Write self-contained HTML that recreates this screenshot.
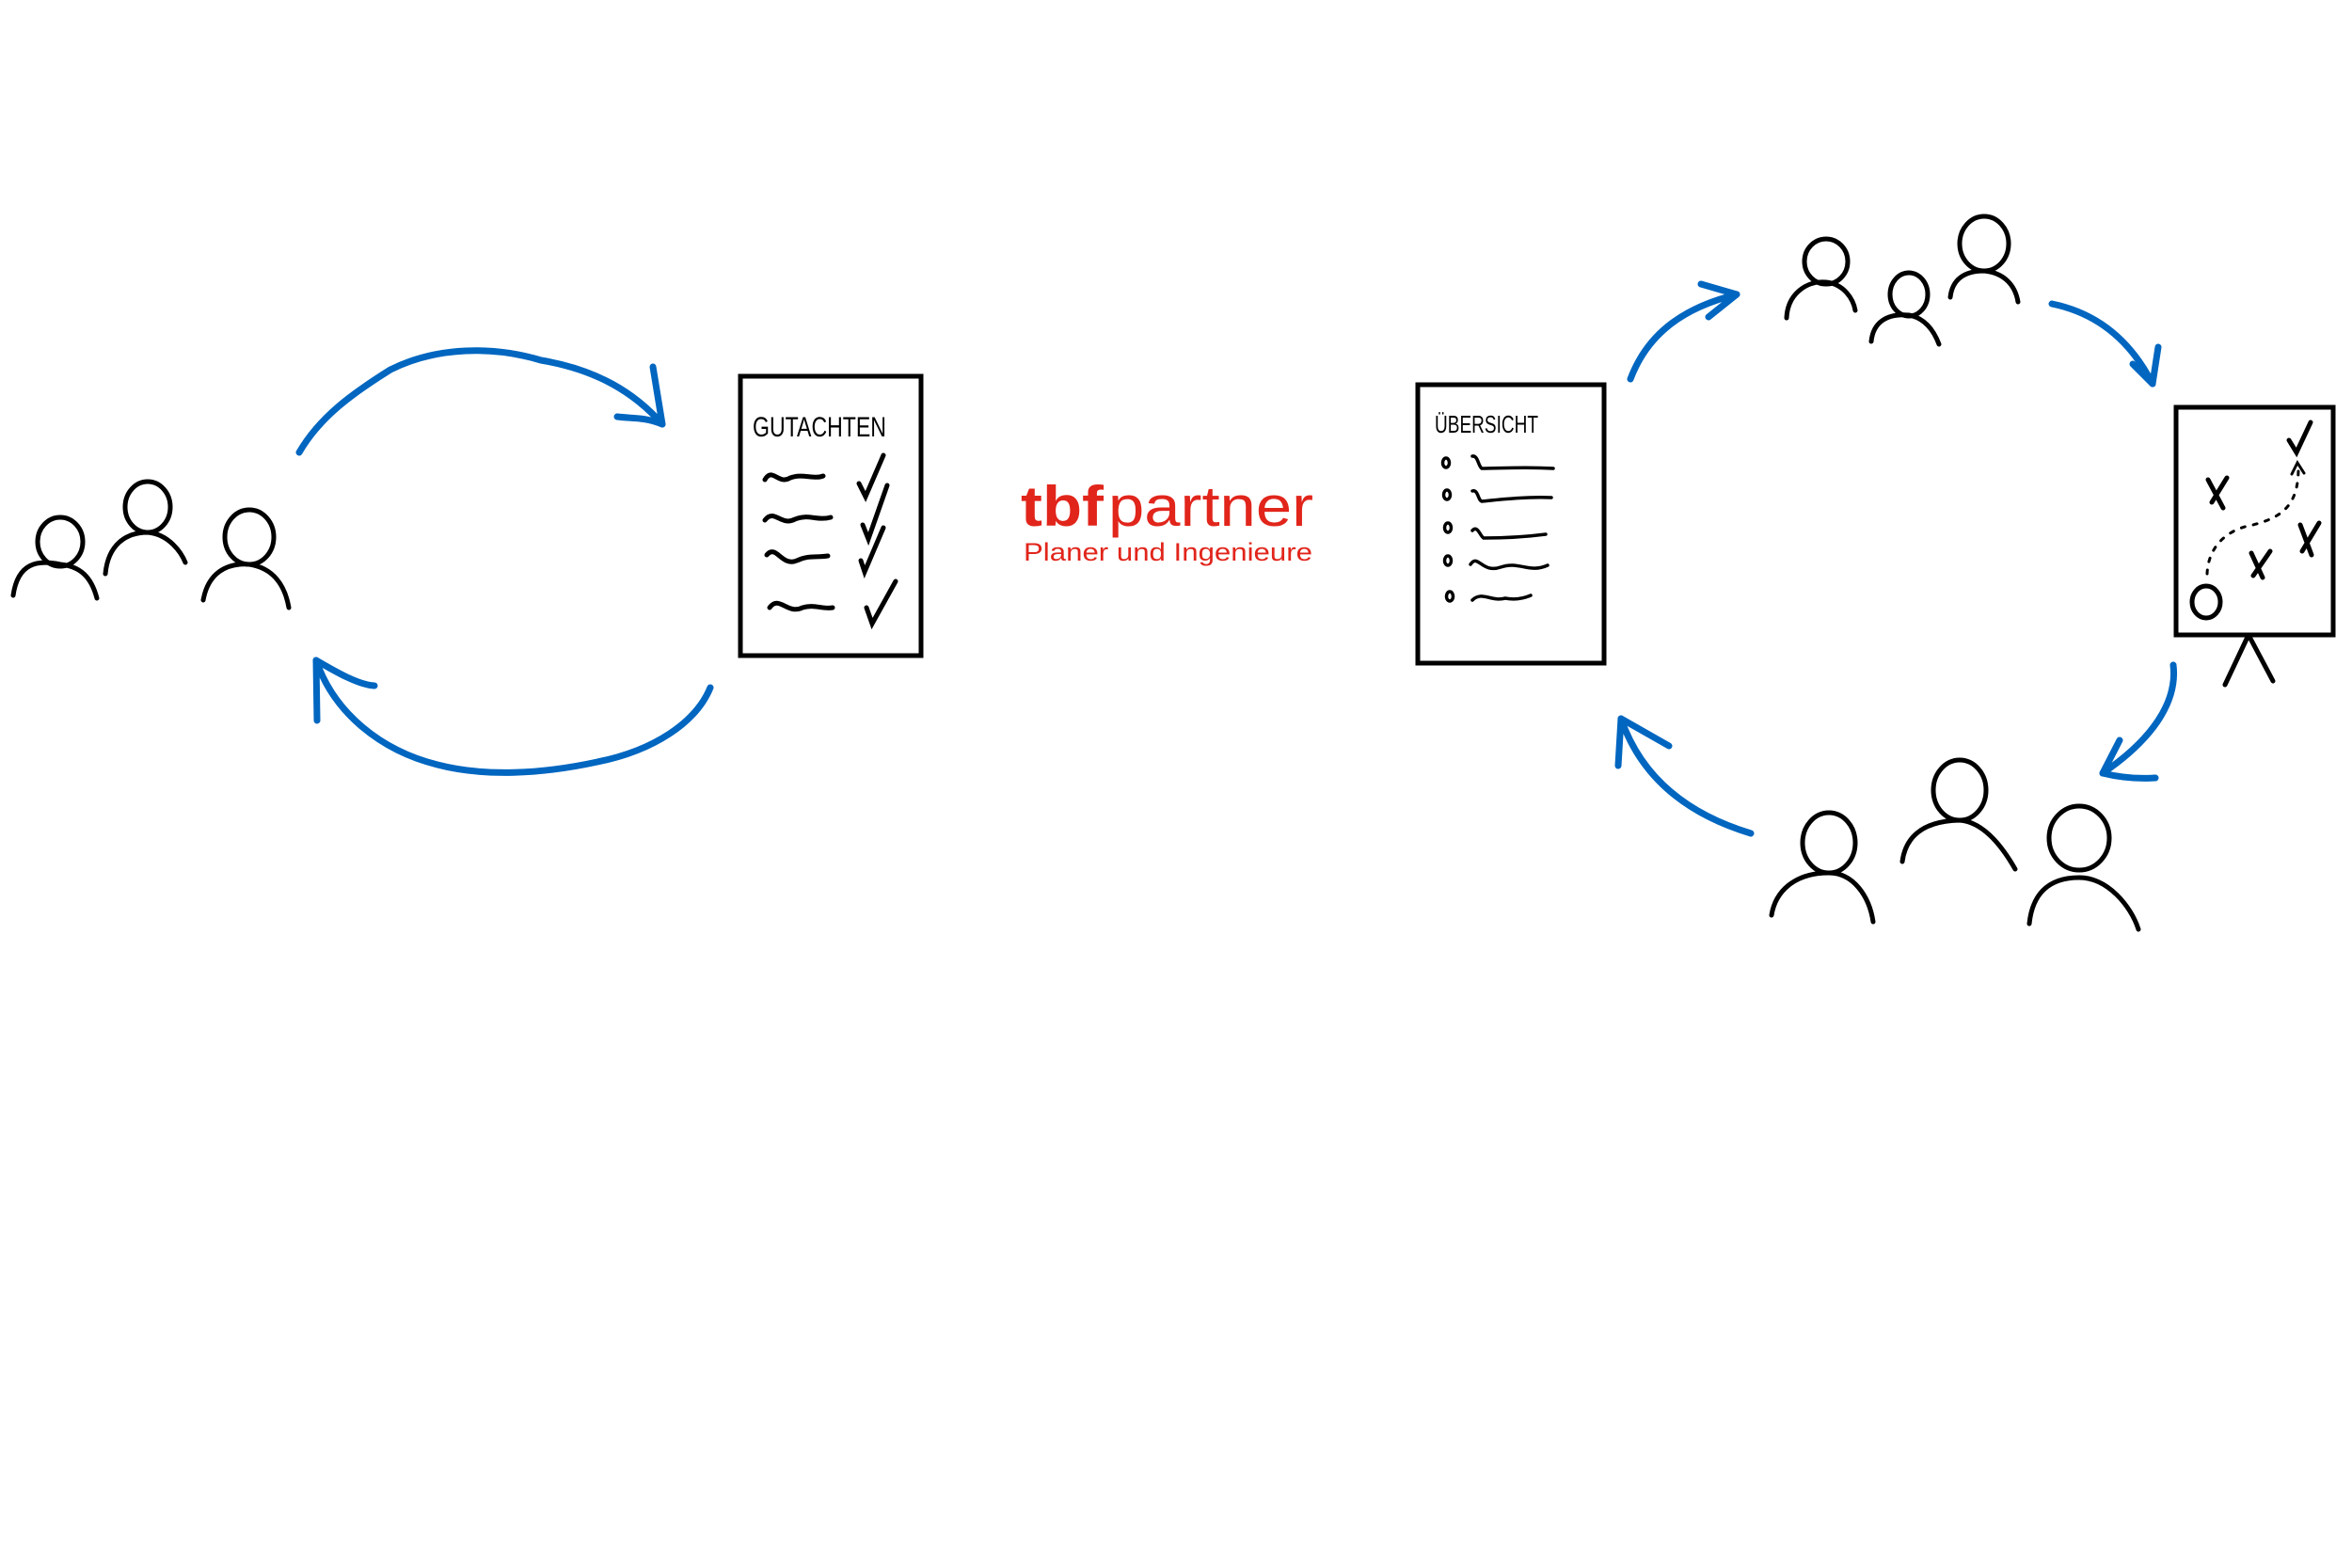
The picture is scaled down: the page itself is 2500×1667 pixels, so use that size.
<!DOCTYPE html>
<html><head><meta charset="utf-8"><style>
html,body{margin:0;padding:0;background:#fff;}
svg{display:block}
</style></head><body>
<svg width="2500" height="1667" viewBox="0 0 2500 1667" xmlns="http://www.w3.org/2000/svg">
<g transform="translate(-5,-2)">
<g fill="none" stroke="#000" stroke-width="5" stroke-linecap="round">
<!-- left people -->
<ellipse cx="69" cy="578" rx="24" ry="26"/>
<path d="M19 635 C24 600 45 597 69 602 C90 604 102 615 108 638"/>
<ellipse cx="162" cy="541" rx="24" ry="27"/>
<path d="M117 612 C120 580 140 568 162 568 C185 570 198 590 202 600"/>
<ellipse cx="270" cy="573" rx="26" ry="29"/>
<path d="M221 640 C226 612 245 600 270 602 C296 606 308 625 312 648"/>
<!-- left doc -->
<rect x="792" y="402" width="192" height="297" stroke-width="5"/>
<path d="M818 512 C826 498 832 518 845 510 C858 505 870 512 880 508"/>
<path d="M818 555 C828 542 835 562 850 554 C864 548 873 556 888 552"/>
<path d="M820 592 C830 580 836 605 852 598 C864 592 872 595 885 593"/>
<path d="M823 648 C833 634 842 656 858 648 C870 644 880 650 890 648"/>
<path d="M918 516 L925 530 L944 486"/>
<path d="M922 560 L928 575 L948 518"/>
<path d="M920 598 L924 610 L944 563"/>
<path d="M926 648 L932 665 L957 620"/>
<!-- right doc -->
<rect x="1512" y="411" width="198" height="296"/>
<path d="M1570 487 C1576 486 1576 497 1580 500 C1600 500 1625 498 1656 500" stroke-width="3.5"/>
<path d="M1570 524 C1576 522 1576 534 1580 535 C1600 533 1625 530 1654 531" stroke-width="3.5"/>
<path d="M1570 566 C1576 560 1578 572 1582 574 C1600 574 1625 573 1648 570" stroke-width="3.5"/>
<path d="M1568 602 C1576 590 1580 612 1600 605 C1620 598 1630 612 1650 603" stroke-width="3.5"/>
<path d="M1570 640 C1580 630 1590 642 1605 638 C1615 640 1625 638 1632 635" stroke-width="3.5"/>
<g stroke-width="3.5"><ellipse cx="1542" cy="494" rx="3.5" ry="5"/><ellipse cx="1543" cy="528" rx="3.5" ry="5"/><ellipse cx="1544" cy="563" rx="3.5" ry="5"/><ellipse cx="1544" cy="598" rx="3.5" ry="5"/><ellipse cx="1546" cy="636" rx="3.5" ry="5"/></g>
<!-- board -->
<rect x="2318" y="435" width="167" height="242"/>
<path d="M2395 677 L2370 730 M2395 677 L2421 726"/>
<path d="M2352 512 L2368 542 M2372 510 L2356 536"/>
<path d="M2398 590 L2410 616 M2418 588 L2400 614"/>
<path d="M2450 560 L2462 592 M2470 558 L2452 588"/>
<path d="M2438 470 L2446 483 L2461 451"/>
<ellipse cx="2350" cy="642" rx="15" ry="17"/>
<path d="M2351 612 C2352 585 2370 565 2400 560 C2430 552 2448 540 2448 500" stroke-width="3" stroke-dasharray="4 9"/>
<path d="M2441 506 L2447 494 L2454 505" stroke-width="3"/>
<!-- top right people -->
<ellipse cx="1946" cy="280" rx="23" ry="24"/>
<path d="M1904 340 C1905 315 1925 300 1946 302 C1965 304 1975 320 1977 332"/>
<ellipse cx="2034" cy="315" rx="20" ry="23"/>
<path d="M1994 365 C1996 345 2010 335 2034 337 C2050 340 2060 352 2066 368"/>
<ellipse cx="2114" cy="261" rx="26" ry="29"/>
<path d="M2078 318 C2080 300 2092 290 2114 290 C2135 292 2147 305 2150 323"/>
<!-- bottom right people -->
<ellipse cx="1949" cy="898" rx="28" ry="32"/>
<path d="M1888 975 C1892 950 1912 930 1949 930 C1975 930 1992 955 1996 982"/>
<ellipse cx="2088" cy="842" rx="28" ry="32"/>
<path d="M2027 918 C2030 895 2045 875 2088 874 C2115 876 2135 905 2147 926"/>
<ellipse cx="2215" cy="893" rx="32" ry="34"/>
<path d="M2162 984 C2165 955 2180 935 2215 935 C2245 935 2270 965 2278 990"/>
</g>
<g fill="none" stroke="#0066c0" stroke-width="7" stroke-linecap="round" stroke-linejoin="round">
<path d="M323 483 C345 445 380 420 420 395 C470 370 530 370 580 385 C640 395 680 420 709 453"/>
<path d="M709 453 L699 392 M709 453 C690 445 675 447 661 445"/>
<path d="M760 733 C745 770 700 800 640 812 C580 825 520 828 470 815 C410 800 360 760 341 704"/>
<path d="M341 704 L342 768 M341 704 C360 715 385 730 403 731"/>
<path d="M1738 405 C1755 360 1790 330 1851 315"/>
<path d="M1851 315 L1813 304 M1851 315 L1821 339"/>
<path d="M2186 325 C2235 335 2270 365 2293 410"/>
<path d="M2293 410 L2299 371 M2293 410 L2272 389"/>
<path d="M2315 709 C2320 750 2290 790 2240 824"/>
<path d="M2240 824 L2258 789 M2240 824 C2260 829 2280 830 2296 829"/>
<path d="M1866 888 C1800 868 1750 830 1728 766"/>
<path d="M1728 766 L1725 816 M1728 766 L1779 795"/>
</g>
<g font-family="'Liberation Sans', sans-serif">
<text x="805" y="466" font-size="30" textLength="142" lengthAdjust="spacingAndGlyphs">GUTACHTEN</text>
<text x="1530" y="462" font-size="26" textLength="110" lengthAdjust="spacingAndGlyphs">ÜBERSICHT</text>
<text x="1090" y="561" font-size="60" font-weight="bold" fill="#e1251b" textLength="88" lengthAdjust="spacingAndGlyphs">tbf</text>
<text x="1183" y="561" font-size="60" fill="#e1251b" textLength="218" lengthAdjust="spacingAndGlyphs">partner</text>
<text x="1093" y="598" font-size="27" fill="#e1251b" textLength="307" lengthAdjust="spacingAndGlyphs">Planer und Ingenieure</text>
</g>
</g>
</svg>
</body></html>
